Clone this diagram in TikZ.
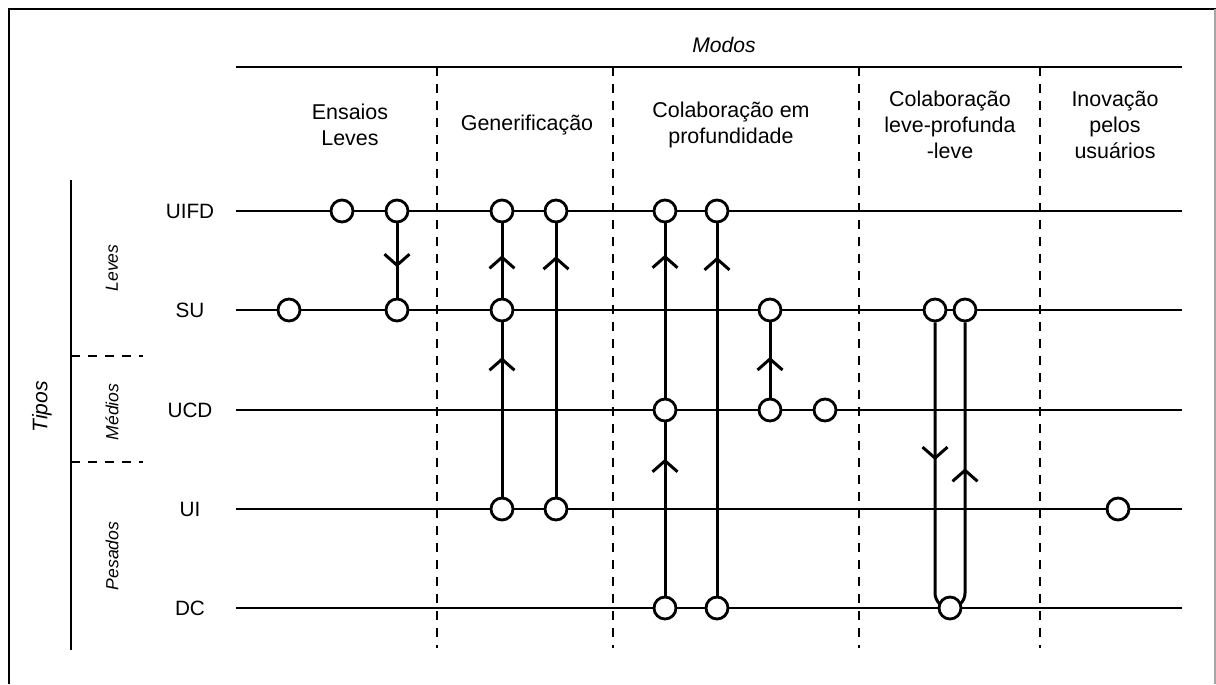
\documentclass[tikz,border=0pt]{standalone}
\usepackage{fontspec}
\setmainfont{Liberation Sans}
\usetikzlibrary{arrows.meta,decorations.markings}

\tikzset{
  evt/.style={circle, draw, fill=white, line width=1.6pt, minimum size=0.44cm, inner sep=0pt},
  link/.style={line width=1.7pt},
  flow/.style={postaction={decorate, decoration={markings,
      mark=at position #1 with {\arrow{Straight Barb[length=0.22cm,width=0.5cm]}}}}},
  sep/.style={dash pattern=on 0.18cm off 0.16cm, line width=1.1pt},
  lbl/.style={font=\fontsize{12.2}{14.7}\selectfont, align=center},
  side/.style={rotate=90, font=\fontsize{10}{12}\selectfont\itshape},
}

\begin{document}
\begin{tikzpicture}[x=0.02cm, y=-0.02cm]
\useasboundingbox (0,0) rectangle (1216,684);
% frame
\draw[line width=1.7pt] (9,684) -- (9,9) -- (1216,9);
\draw[gray!70, line width=0.6pt] (1215,9) -- (1215,684);

% modes along the top
\node[font=\fontsize{12}{14}\selectfont\itshape] (modos) at (724,45) {Modos};
\draw[line width=1.7pt] (236,67) -- (1182,67);
\foreach \x in {437,613,859,1040}
  \draw[sep] (\x,67) -- (\x,648);
\node[lbl] (m1) at (350,125) {Ensaios\\Leves};
\node[lbl] (m2) at (527,125) {Generificação};
\node[lbl] (m3) at (731,125) {Colaboração em\\profundidade};
\node[lbl] (m4) at (950,125) {Colaboração\\leve-profunda\\-leve};
\node[lbl] (m5) at (1115,125) {Inovação\\pelos\\usuários};

% types down the side
\draw[line width=1.7pt] (71,180) -- (71,650);
\draw[sep] (71,356) -- (143,356);
\draw[sep] (71,462) -- (143,462);
\node[rotate=90, font=\fontsize{12}{14}\selectfont\itshape] (tipos) at (42,407) {Tipos};
\node[side] (leves) at (112,268) {Leves};
\node[side] (medios) at (112,412) {Médios};
\node[side] (pesados) at (112,556) {Pesados};

% rows
\foreach \n/\t/\y in {uifd/UIFD/211, su/SU/310, ucd/UCD/410, ui/UI/509, dc/DC/608} {
  \node[lbl, font=\fontsize{11.8}{14}\selectfont] (\n) at (190,\y) {\t};
  \draw[line width=1.3pt] (236,\y) -- (1182,\y);
}

% events
\node[evt] (uifd1) at (342,211) {};
\node[evt] (uifd2) at (397,211) {};
\node[evt] (uifd3) at (502,211) {};
\node[evt] (uifd4) at (556,211) {};
\node[evt] (uifd5) at (665,211) {};
\node[evt] (uifd6) at (717,211) {};
\node[evt] (su1) at (289,310) {};
\node[evt] (su2) at (397,310) {};
\node[evt] (su3) at (502,310) {};
\node[evt] (su4) at (770,310) {};
\node[evt] (su5) at (935,310) {};
\node[evt] (su6) at (965,310) {};
\node[evt] (ucd1) at (665,410) {};
\node[evt] (ucd2) at (770,410) {};
\node[evt] (ucd3) at (825,410) {};
\node[evt] (ui1) at (502,509) {};
\node[evt] (ui2) at (556,509) {};
\node[evt] (ui3) at (1118,509) {};
\node[evt] (dc1) at (665,608) {};
\node[evt] (dc2) at (717,608) {};

% transitions
\draw[link, flow=0.59] (uifd2) -- (su2);
\draw[link, flow=0.80] (ui1) -- (su3);
\draw[link, flow=0.57] (su3) -- (uifd3);
\draw[link, flow=0.88] (ui2) -- (uifd4);
\draw[link, flow=0.79] (dc1) -- (ucd1);
\draw[link, flow=0.82] (ucd1) -- (uifd5);
\draw[link, flow=0.91] (dc2) -- (uifd6);
\draw[link, flow=0.54] (ucd2) -- (su4);
\draw[link, rounded corners=0.3cm, flow=0.234, flow=0.752]
  (su5) -- (935,608) -- (965,608) -- (su6);
\node[evt] (dc3) at (950,608) {};
\end{tikzpicture}
\end{document}
